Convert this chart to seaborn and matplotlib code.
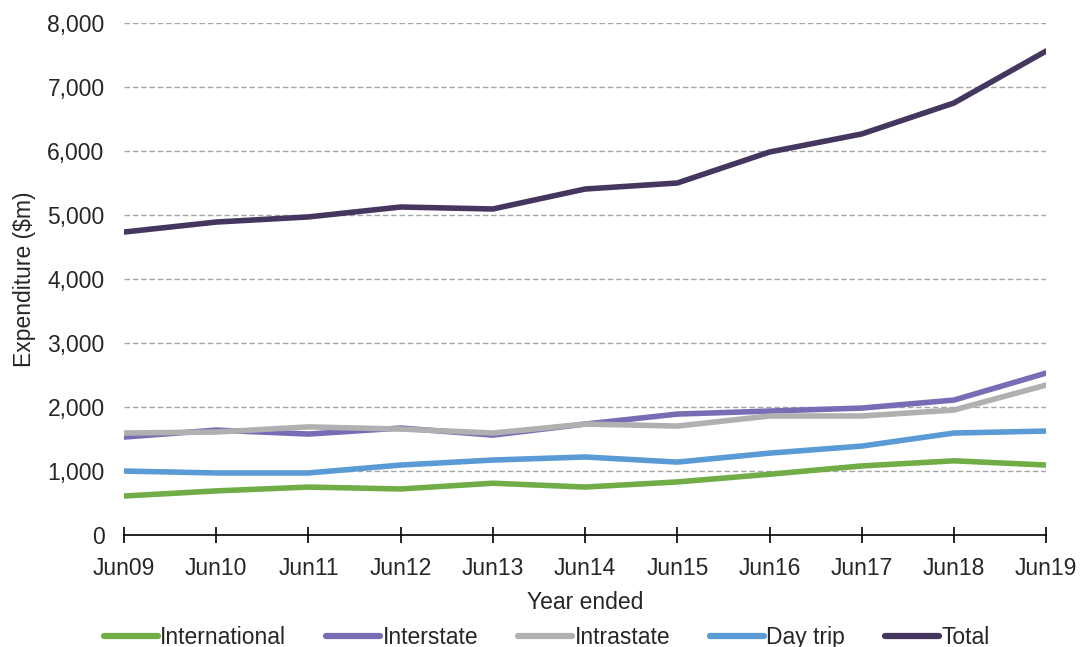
import matplotlib
matplotlib.use("Agg")
import matplotlib.pyplot as plt
import seaborn as sns
import pandas as pd
from matplotlib.ticker import FuncFormatter
from matplotlib.lines import Line2D

years = ["Jun09", "Jun10", "Jun11", "Jun12", "Jun13", "Jun14", "Jun15", "Jun16", "Jun17", "Jun18", "Jun19"]
international = [610, 690, 750, 720, 810, 750, 830, 950, 1080, 1160, 1094]
interstate = [1531, 1640, 1578, 1672, 1562, 1734, 1890, 1937, 1984, 2109, 2531]
intrastate = [1594, 1610, 1690, 1656, 1594, 1734, 1703, 1860, 1860, 1953, 2344]
day_trip = [1000, 970, 970, 1094, 1172, 1220, 1140, 1280, 1390, 1594, 1625]
total = [4734, 4890, 4970, 5125, 5094, 5406, 5500, 5984, 6266, 6750, 7562]

series = {
    "International": international,
    "Interstate": interstate,
    "Intrastate": intrastate,
    "Day trip": day_trip,
    "Total": total,
}
colors = {
    "International": "#70AD47",
    "Interstate": "#7A6BB5",
    "Intrastate": "#B0B0B0",
    "Day trip": "#5B9BD5",
    "Total": "#45365F",
}

rows = []
for name, vals in series.items():
    for i, (y, v) in enumerate(zip(years, vals)):
        rows.append({"idx": i, "year": y, "series": name, "value": v})
df = pd.DataFrame(rows)

sns.set_theme(style="white")
plt.rcParams["font.family"] = ["Liberation Sans", "DejaVu Sans"]

FS = 16.5
fig = plt.figure(figsize=(10.83, 6.47), dpi=100)
ax = fig.add_axes([0.1145, 0.173, 0.8515, 0.7915])

sns.lineplot(data=df, x="idx", y="value", hue="series", palette=colors,
             hue_order=list(series.keys()), linewidth=4, ax=ax, legend=False)

ax.set_xlim(0, len(years) - 1)
ax.set_ylim(0, 8000)
ax.set_yticks(range(0, 8001, 1000))
ax.yaxis.set_major_formatter(FuncFormatter(lambda v, p: f"{int(v):,}"))
ax.set_xticks(range(len(years)))
ax.set_xticklabels(years)
ax.grid(axis="y", color="#A6A6A6", linestyle=(0, (4, 2)), linewidth=1)
ax.set_axisbelow(True)
for s in ["top", "right", "left"]:
    ax.spines[s].set_visible(False)
ax.spines["bottom"].set_color("black")
ax.spines["bottom"].set_linewidth(1.2)
ax.tick_params(axis="x", direction="inout", length=12, width=1.2, color="black",
               labelsize=FS, pad=10, bottom=True)
ax.tick_params(axis="y", length=0, labelsize=FS, pad=14)
ax.set_xlabel("Year ended", fontsize=FS, labelpad=8)
ax.set_ylabel("Expenditure ($m)", fontsize=FS, labelpad=8)

handles = [Line2D([0], [0], color=colors[n], lw=4.5, solid_capstyle="round") for n in series]
fig.legend(handles, list(series.keys()), loc="lower center", ncol=5, frameon=False,
           fontsize=FS, bbox_to_anchor=(0.505, -0.035), handlelength=2.35, handletextpad=0.1,
           columnspacing=1.75)

fig.savefig("out.png", dpi=100)
